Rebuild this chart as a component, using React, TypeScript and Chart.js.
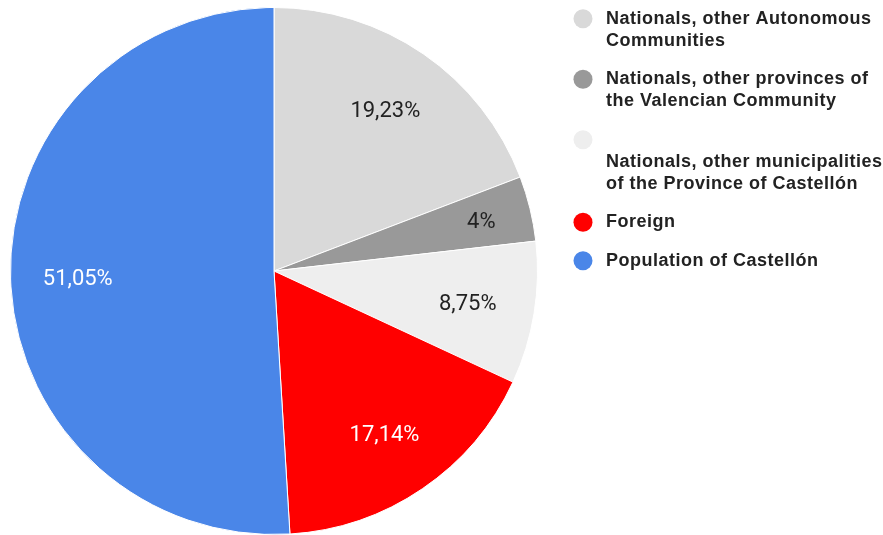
import React, { useEffect, useRef } from "react";
import { Chart, registerables } from "chart.js";

Chart.register(...registerables);

const labels: string[][] = [
  ["Nationals, other Autonomous", "Communities"],
  ["Nationals, other provinces of", "the Valencian Community"],
  ["", "Nationals, other municipalities", "of the Province of Castellón"],
  ["Foreign"],
  ["Population of Castellón"],
];
const values: number[] = [19.23, 4, 8.75, 17.14, 51.05];
const colors: string[] = ["#d9d9d9", "#999999", "#eeeeee", "#ff0000", "#4a86e8"];
const labelTextColors: string[] = ["#222222", "#222222", "#222222", "#ffffff", "#ffffff"];

const sliceLabelPlugin = {
  id: "sliceLabels",
  afterDatasetsDraw(chart: any) {
    const ctx = chart.ctx;
    const meta = chart.getDatasetMeta(0);
    ctx.save();
    ctx.font = "22px Roboto";
    ctx.textAlign = "center";
    ctx.textBaseline = "middle";
    meta.data.forEach((arc: any, i: number) => {
      const p = arc.getProps(["x", "y", "startAngle", "endAngle", "outerRadius"], true);
      const mid = (p.startAngle + p.endAngle) / 2;
      const v = values[i];
      const frac = v < 5 ? 0.81 : 0.745;
      const r = p.outerRadius * frac;
      const x = p.x + Math.cos(mid) * r;
      const y = p.y + Math.sin(mid) * r + 2.5;
      ctx.fillStyle = labelTextColors[i];
      ctx.fillText(String(v).replace(".", ",") + "%", x, y);
    });
    ctx.restore();
  },
};

const legendPlugin = {
  id: "sideLegend",
  afterDraw(chart: any) {
    const ctx = chart.ctx;
    const area = chart.chartArea;
    const x0 = area.right + 45;
    let y = 18.8;
    const lineH = 22;
    const gap = 38.5;
    ctx.save();
    ctx.font = "bold 18px 'Liberation Sans', Arial, sans-serif";
    try {
      ctx.letterSpacing = "0.5px";
    } catch (e) {}
    ctx.textAlign = "left";
    ctx.textBaseline = "middle";
    (chart.data.labels as string[][]).forEach((lines, i) => {
      ctx.fillStyle = colors[i];
      ctx.beginPath();
      ctx.arc(x0, y, 9.5, 0, Math.PI * 2);
      ctx.fill();
      ctx.fillStyle = "#222222";
      lines.forEach((line, j) => {
        ctx.fillText(line, x0 + 23, y + j * lineH);
      });
      y += (lines.length - 1) * lineH + gap;
    });
    ctx.restore();
  },
};

export default function App() {
  const ref = useRef<HTMLCanvasElement | null>(null);
  useEffect(() => {
    if (!ref.current) return;
    const chart = new Chart(ref.current, {
      type: "pie",
      data: {
        labels: labels as any,
        datasets: [
          {
            data: values,
            backgroundColor: colors,
            borderColor: "#ffffff",
            borderWidth: 1,
          },
        ],
      },
      options: {
        animation: false,
        responsive: false,
        layout: { padding: { left: 10, right: 345, top: 7, bottom: 0 } },
        plugins: {
          legend: { display: false },
          tooltip: { enabled: false },
        },
      },
      plugins: [sliceLabelPlugin, legendPlugin],
    });
    return () => chart.destroy();
  }, []);
  return (
    <div style={{ position: "fixed", left: 0, top: 0, width: 883, height: 535, background: "#ffffff" }}>
      <canvas ref={ref} width={883} height={535} style={{ display: "block" }} />
    </div>
  );
}
